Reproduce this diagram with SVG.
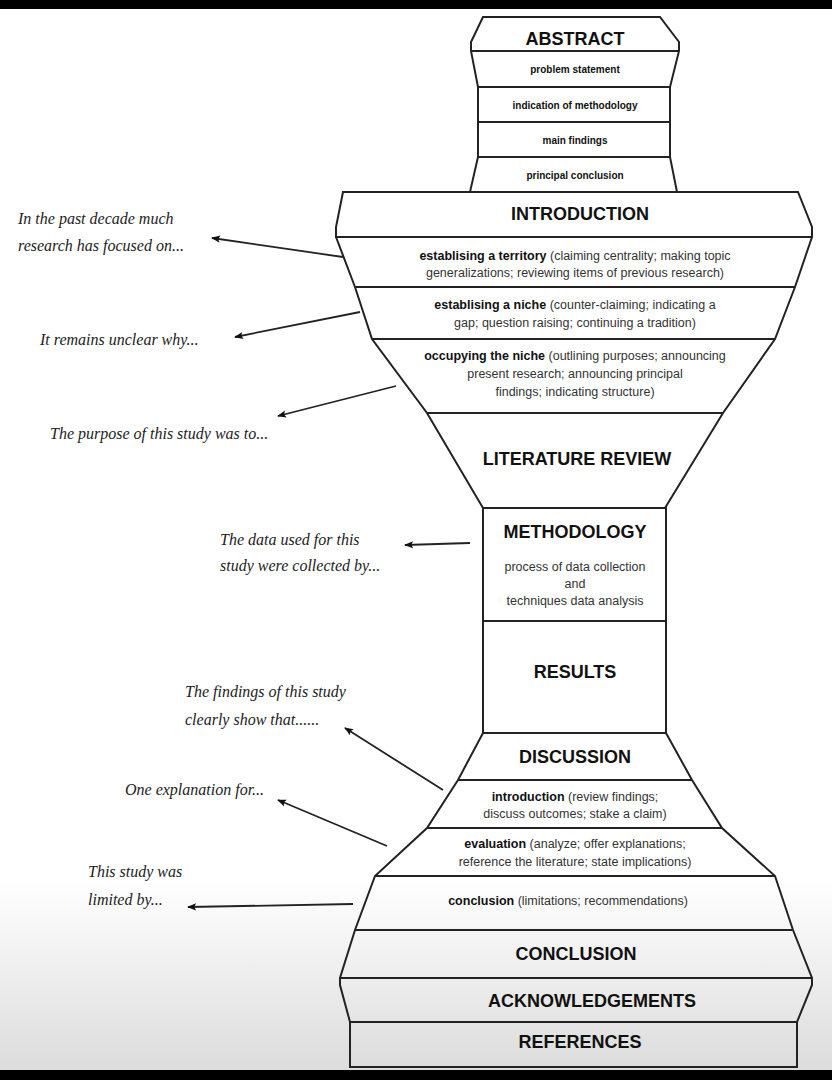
<svg xmlns="http://www.w3.org/2000/svg" width="832" height="1080" viewBox="0 0 832 1080">
<defs>
<linearGradient id="bg" x1="0" y1="0" x2="0" y2="1"><stop offset="0" stop-color="#ffffff"/><stop offset="1" stop-color="#dcdcdc"/></linearGradient>
<marker id="ah" viewBox="0 0 10 10" refX="9" refY="5" markerWidth="9" markerHeight="9" markerUnits="userSpaceOnUse" orient="auto"><path d="M0,1 L10,5 L0,9 L2,5 Z" fill="#111"/></marker>
</defs>
<style>
.s{fill:none;stroke:#222;stroke-width:2}
.h{font-family:"Liberation Sans",Arial,sans-serif;font-weight:bold;font-size:18px;fill:#111;text-anchor:middle}
.t{font-family:"Liberation Sans",Arial,sans-serif;font-size:12.5px;fill:#333;text-anchor:middle}
.a{font-family:"Liberation Sans",Arial,sans-serif;font-size:10px;font-weight:bold;fill:#111;text-anchor:middle}
.n{font-family:"Liberation Serif","Times New Roman",serif;font-style:italic;font-size:16px;fill:#222}
.c{stroke:#222;stroke-width:1.8;marker-end:url(#ah)}
</style>
<rect width="832" height="1080" fill="#fff"/>
<rect y="880" width="832" height="190" fill="url(#bg)"/>
<rect width="832" height="9" fill="#000"/>
<rect y="1070" width="832" height="10" fill="#000"/>

<g id="abstract">
<path class="s" d="M483,17 L660,17 L679,42 L679,51 L670,87 L670,157 L677,192 L470,192 L478,157 L478,87 L471,51 L471,42 Z M471,51 L679,51 M478,87 L670,87 M478,122 L670,122 M478,157 L670,157"/>
<text class="h" x="575" y="45">ABSTRACT</text>
<text class="a" x="575" y="73">problem statement</text>
<text class="a" x="575" y="109">indication of methodology</text>
<text class="a" x="575" y="144">main findings</text>
<text class="a" x="575" y="179">principal conclusion</text>
</g>

<g id="introduction">
<path class="s" d="M343,192 L798,192 L812,227 L812,237 L336,237 L336,227 Z"/>
<path class="s" d="M336,237 L355,287 L372,339 L427,413 L483,508 L665,508 L723,413 L775,339 L795,287 L812,237 M355,287 L795,287 M372,339 L775,339 M427,413 L723,413"/>
<text class="h" x="580" y="220">INTRODUCTION</text>
<text class="t" x="575" y="260"><tspan font-weight="bold" fill="#111">establising a territory</tspan> (claiming centrality; making topic</text>
<text class="t" x="575" y="277">generalizations; reviewing items of previous research)</text>
<text class="t" x="575" y="309"><tspan font-weight="bold" fill="#111">establising a niche</tspan> (counter-claiming; indicating a</text>
<text class="t" x="575" y="327">gap; question raising; continuing a tradition)</text>
<text class="t" x="575" y="360"><tspan font-weight="bold" fill="#111">occupying the niche</tspan> (outlining purposes; announcing</text>
<text class="t" x="575" y="378">present research; announcing principal</text>
<text class="t" x="575" y="396">findings; indicating structure)</text>
<text class="h" x="577" y="465">LITERATURE REVIEW</text>
</g>

<g id="methodology">
<rect class="s" x="483" y="508" width="183" height="113"/>
<text class="h" x="575" y="538">METHODOLOGY</text>
<text class="t" x="575" y="571">process of data collection</text>
<text class="t" x="575" y="588">and</text>
<text class="t" x="575" y="605">techniques data analysis</text>
</g>

<g id="results">
<rect class="s" x="483" y="621" width="183" height="112"/>
<text class="h" x="575" y="678">RESULTS</text>
</g>

<g id="discussion">
<path class="s" d="M483,733 L666,733 L692,780 L722,828 L775,876 L793,930 L812,978 L812,985 L797,1022 L350,1022 L340,985 L340,978 L355,930 L375,876 L427,828 L458,780 Z"/>
<path class="s" d="M458,780 L692,780 M427,828 L722,828 M375,876 L775,876 M355,930 L793,930 M340,978 L812,978"/>
<text class="h" x="575" y="763">DISCUSSION</text>
<text class="t" x="575" y="801"><tspan font-weight="bold" fill="#111">introduction</tspan> (review findings;</text>
<text class="t" x="575" y="818">discuss outcomes; stake a claim)</text>
<text class="t" x="575" y="848"><tspan font-weight="bold" fill="#111">evaluation</tspan> (analyze; offer explanations;</text>
<text class="t" x="575" y="866">reference the literature; state implications)</text>
<text class="t" x="568" y="905"><tspan font-weight="bold" fill="#111">conclusion</tspan> (limitations; recommendations)</text>
<text class="h" x="576" y="960">CONCLUSION</text>
<text class="h" x="592" y="1007">ACKNOWLEDGEMENTS</text>
</g>

<g id="references">
<rect class="s" x="350" y="1022" width="447" height="45"/>
<text class="h" x="580" y="1048">REFERENCES</text>
</g>

<g id="notes">
<text class="n" x="18" y="224">In the past decade much</text>
<text class="n" x="18" y="251">research has focused on...</text>
<text class="n" x="40" y="345">It remains unclear why...</text>
<text class="n" x="50" y="439">The purpose of this study was to...</text>
<text class="n" x="220" y="545">The data used for this</text>
<text class="n" x="220" y="571">study were collected by...</text>
<text class="n" x="185" y="697">The findings of this study</text>
<text class="n" x="185" y="725">clearly show that......</text>
<text class="n" x="125" y="795">One explanation for...</text>
<text class="n" x="88" y="877">This study was</text>
<text class="n" x="88" y="905">limited by...</text>
</g>

<g id="connectors">
<line class="c" x1="343" y1="257" x2="212" y2="238"/>
<line class="c" x1="360" y1="312" x2="235" y2="337"/>
<line class="c" x1="396" y1="386" x2="278" y2="416"/>
<line class="c" x1="470" y1="543" x2="405" y2="545"/>
<line class="c" x1="443" y1="790" x2="345" y2="728"/>
<line class="c" x1="387" y1="846" x2="278" y2="800"/>
<line class="c" x1="353" y1="904" x2="188" y2="907"/>
</g>
</svg>
